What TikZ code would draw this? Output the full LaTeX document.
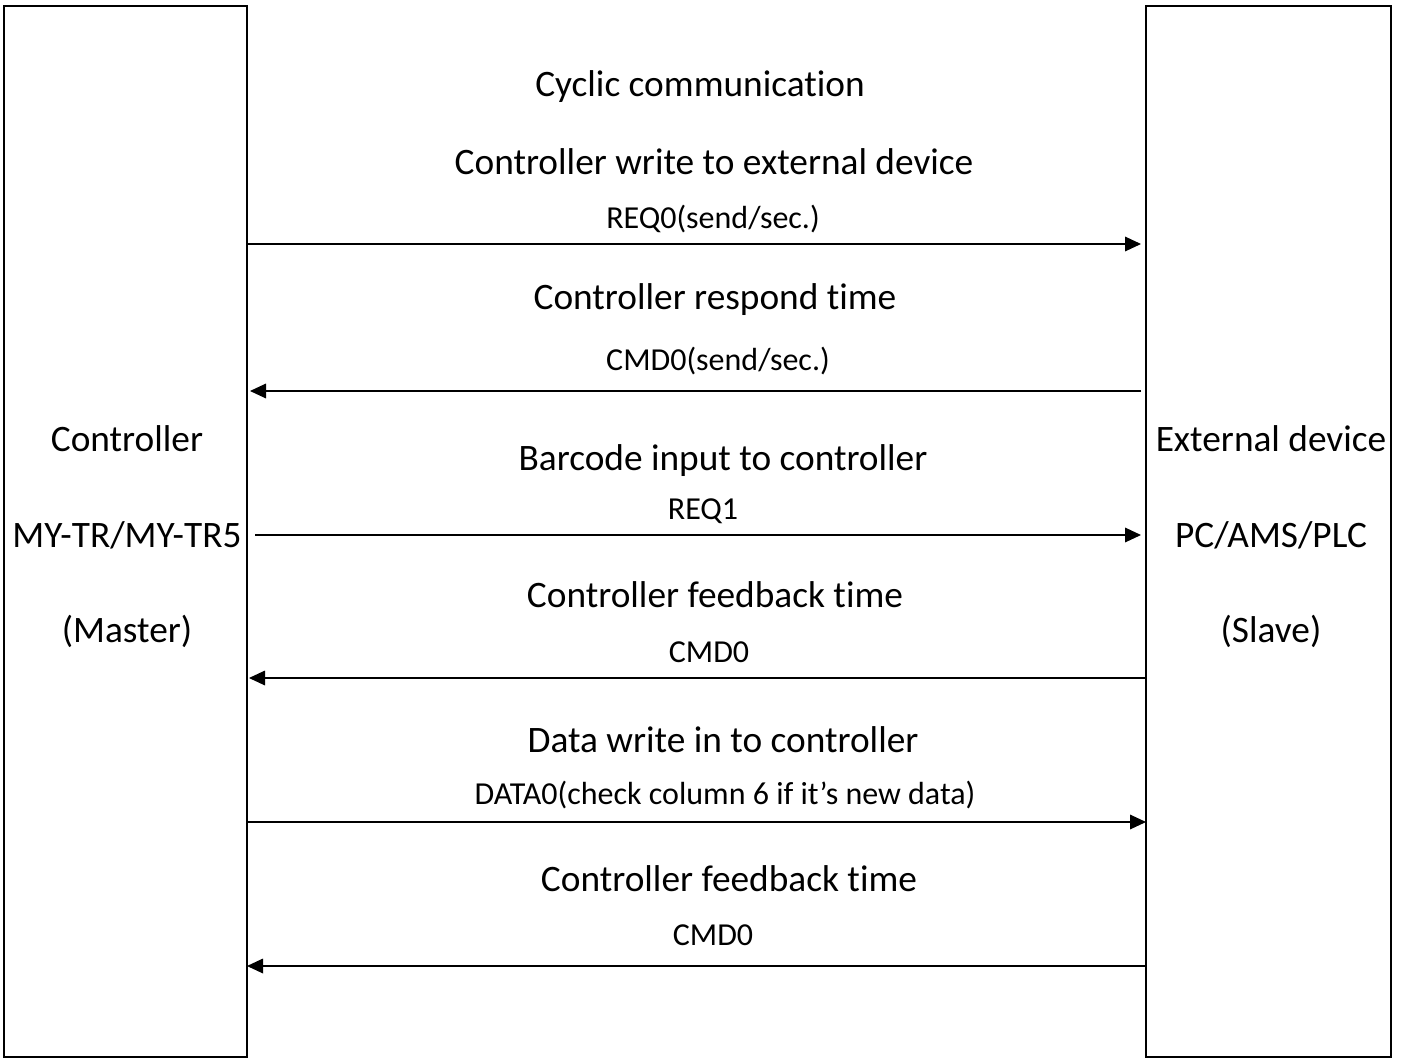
\documentclass[tikz,border=0pt]{standalone}
\usepackage{fontspec}
\setmainfont{Carlito}[Ligatures=NoCommon]
\usetikzlibrary{arrows.meta}
\begin{document}
\begin{tikzpicture}[x=0.75pt,y=-0.75pt,
  big/.style={font=\fontsize{28}{33}\selectfont, inner sep=0pt, anchor=center, yshift=-1.5pt},
  small/.style={font=\fontsize{24}{28}\selectfont, inner sep=0pt, anchor=center, yshift=-1.2pt},
  box/.style={draw, line width=1.6pt},
  msg/.style={line width=0.9pt, -{Triangle[length=12pt,width=11pt]}}]
\useasboundingbox (0,0) rectangle (1402,1059);
% boxes
\draw[box] (4,6) rectangle (247,1057);
\draw[box] (1146,6) rectangle (1391,1057);
\coordinate (m1) at (247,244); \coordinate (s1) at (1141,244);
\coordinate (s2) at (1141,391); \coordinate (m2) at (250,391);
\coordinate (m3) at (255,535); \coordinate (s3) at (1141,535);
\coordinate (s4) at (1146,678); \coordinate (m4) at (249,678);
\coordinate (m5) at (246,822); \coordinate (s5) at (1146,822);
\coordinate (s6) at (1146,966); \coordinate (m6) at (247,966);
\draw[msg] (m1) -- (s1);
\draw[msg] (s2) -- (m2);
\draw[msg] (m3) -- (s3);
\draw[msg] (s4) -- (m4);
\draw[msg] (m5) -- (s5);
\draw[msg] (s6) -- (m6);
% box texts
\node[big] (c1) at (127,437) {Controller};
\node[big] (c2) at (127,533) {MY-TR/MY-TR5};
\node[big] (c3) at (127,629) {(Master)};
\node[big] (e1) at (1271,437) {External device};
\node[big] (e2) at (1271,533) {PC/AMS/PLC};
\node[big] (e3) at (1271,629) {(Slave)};
% message texts
\node[big] (t0) at (700,85) {Cyclic communication};
\node[big] (t1) at (714,160) {Controller write to external device};
\node[small] (l1) at (713,217) {REQ0(send/sec.)};
\node[big] (t2) at (715,298) {Controller respond time};
\node[small] (l2) at (718,359) {CMD0(send/sec.)};
\node[big] (t3) at (723,459) {Barcode input to controller};
\node[small] (l3) at (703,510) {REQ1};
\node[big] (t4) at (715,593) {Controller feedback time};
\node[small] (l4) at (709,651) {CMD0};
\node[big] (t5) at (723,738) {Data write in to controller};
\node[small] (l5) at (725,793) {DATA0(check column 6 if it’s new data)};
\node[big] (t6) at (729,877) {Controller feedback time};
\node[small] (l6) at (713,934) {CMD0};
\end{tikzpicture}
\end{document}
